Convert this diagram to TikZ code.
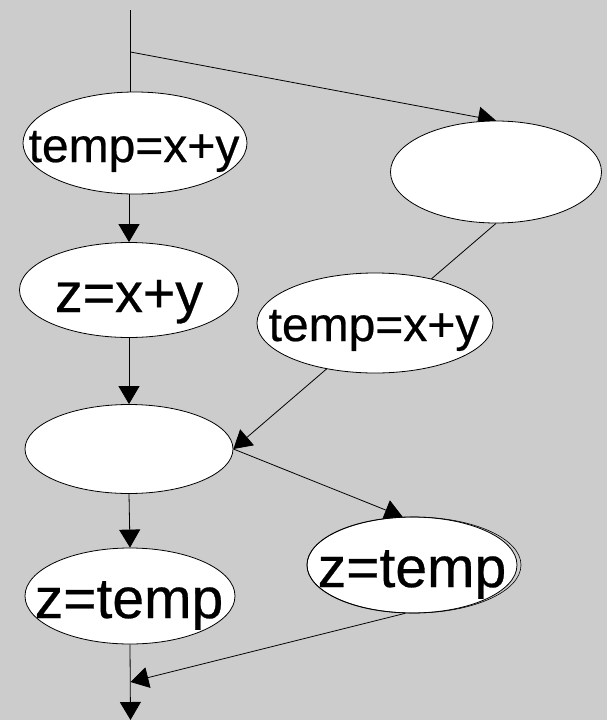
\documentclass[tikz,border=0pt]{standalone}
\usepackage{fontspec}
\setmainfont{Liberation Sans}
\newfontfamily\lblfont[FakeBold=0.5]{Liberation Sans}
\usetikzlibrary{arrows.meta,shapes.geometric}
\pgfdeclarelayer{bg}
\pgfdeclarelayer{edge}
\pgfsetlayers{bg,edge,main}
\definecolor{bggray}{HTML}{CCCCCC}
\begin{document}
\begin{tikzpicture}[x=1pt,y=-1pt,
  ell/.style={ellipse, draw, fill=white, line width=0.8pt, inner sep=0pt},
  lbl/.style={anchor=base, inner sep=0pt, font=\lblfont},
  conn/.style={line width=0.8pt},
  arr/.style={conn, -{Triangle[length=18pt,width=21pt]}}]
\begin{pgfonlayer}{bg}
\fill[bggray] (0,0) rectangle (607,720);
\end{pgfonlayer}
\useasboundingbox (0,0) rectangle (607,720);

% ellipses
\node[ell, minimum width=224pt, minimum height=102pt] (e1) at (135,143) {};
\node[ell, minimum width=219pt, minimum height=95pt]  (e2) at (129,290) {};
\node[ell, minimum width=211pt, minimum height=102pt] (e3) at (496,172) {};
\node[ell, minimum width=236pt, minimum height=100pt] (e4) at (375,323) {};
\node[ell, minimum width=208pt, minimum height=89pt]  (e5) at (129,449) {};
\node[ell, minimum width=210pt, minimum height=96pt]  (e6) at (412,565) {};
\draw[line width=0.6pt] (414,565) ellipse [x radius=107pt, y radius=48pt];
\node[ell, minimum width=210pt, minimum height=96pt]  (e7) at (130,596) {};

% texts
\node[lbl] (t1) at (134,162) {\fontsize{48}{48}\selectfont temp=x+y};
\node[lbl] (t2) at (129,312) {\fontsize{55.5}{56}\selectfont z=x+y};
\node[lbl] (t4) at (374,341) {\fontsize{48}{48}\selectfont temp=x+y};
\node[lbl] (t6) at (412,587) {\fontsize{57}{57}\selectfont z=temp};
\node[lbl] (t7) at (129,618) {\fontsize{57}{57}\selectfont z=temp};

% free ends
\coordinate (top) at (130.5,10);
\coordinate (br) at (130.5,52);
\coordinate (bot) at (130.5,720);
\coordinate (m) at (130.5,682);

\begin{pgfonlayer}{edge}
\draw[conn] (top) -- (top |- e1.north);
\draw[arr] (br) -- (e3.north);
\draw[arr] (e2.north |- e1.south) -- (e2.north);
\draw[arr] (e3.south) -- (e5.east);
\draw[arr] (e2.south) -- (e5.north);
\draw[arr] (e5.east) -- (e6.101);
\draw[arr] (e5.south) -- (e7.north);
\draw[arr] (e7.south) -- (bot);
\draw[arr] (e6.-98) -- (m);
\end{pgfonlayer}
\end{tikzpicture}
\end{document}
